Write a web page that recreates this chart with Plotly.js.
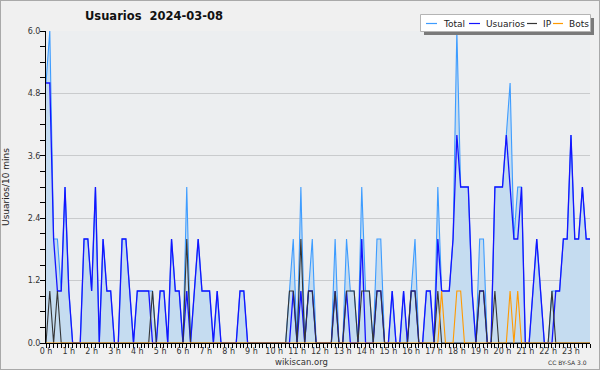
<!DOCTYPE html>
<html>
<head>
<meta charset="utf-8">
<script src="https://cdn.plot.ly/plotly-3.0.1.min.js"></script>
<style>
  html, body { margin: 0; padding: 0; background: #f0f0f0; }
  #wrap { position: relative; width: 600px; height: 370px; }
  #chart { width: 600px; height: 370px; }
  #frame { position: absolute; left: 0; top: 0; width: 600px; height: 370px; box-sizing: border-box; border: 1px solid #a9a9a9; pointer-events: none; }
</style>
</head>
<body>
<div id="wrap"><div id="chart"></div><div id="frame"></div></div>
<script>
// ---- data: one value per 10-minute slot of 2024-03-08 (144 slots) ----
const total = [
  5,6,2,2,1,3,1,0,0,0,
  2,2,1,3,0,2,1,1,0,0,
  2,2,1,0,1,1,1,1,1,0,
  1,1,0,2,1,1,0,3,0,1,
  2,1,1,1,0,1,0,0,0,0,
  0,1,1,0,0,0,0,0,0,0,
  0,0,0,0,1,2,0,3,0,1,
  2,0,0,0,0,0,2,0,0,2,
  1,1,0,3,1,1,0,2,2,0,
  0,1,0,0,1,0,1,2,0,0,
  1,1,0,3,1,1,1,2,6,3,
  3,3,1,0,2,2,0,0,3,3,
  3,4,5,2,3,3,0,0,1,2,
  1,0,0,1,1,1,2,2,4,2,
  2,3,2,2
];
const usuarios = [
  5,5,2,1,1,3,1,0,0,0,
  2,2,1,3,0,2,1,1,0,0,
  2,2,1,0,1,1,1,1,0,0,
  1,1,0,2,1,1,0,1,0,1,
  2,1,1,1,0,1,0,0,0,0,
  0,1,1,0,0,0,0,0,0,0,
  0,0,0,0,0,1,0,1,0,1,
  1,0,0,0,0,0,1,0,0,1,
  0,0,0,2,0,0,0,1,1,0,
  0,1,0,0,1,0,1,1,0,0,
  1,1,0,2,1,1,1,2,4,3,
  3,3,1,0,1,1,0,0,3,3,
  3,4,3,2,2,3,0,0,1,2,
  1,0,0,0,1,1,2,2,4,2,
  2,3,2,2
];
const ip = [
  0,1,0,1,0,0,0,0,0,0,
  0,0,0,0,0,0,0,0,0,0,
  0,0,0,0,0,0,0,0,1,0,
  0,0,0,0,0,0,0,2,0,0,
  0,0,0,0,0,0,0,0,0,0,
  0,0,0,0,0,0,0,0,0,0,
  0,0,0,0,1,1,0,2,0,1,
  1,0,0,0,0,0,1,0,0,1,
  1,1,0,1,1,1,0,1,1,0,
  0,0,0,0,0,0,1,1,0,0,
  0,0,0,1,0,0,0,0,0,0,
  0,0,0,0,1,1,0,0,1,0,
  0,0,0,0,0,0,0,0,0,0,
  0,0,0,1,0,0,0,0,0,0,
  0,0,0,0
];
const bots = [
  0,0,0,0,0,0,0,0,0,0,
  0,0,0,0,0,0,0,0,0,0,
  0,0,0,0,0,0,0,0,0,0,
  0,0,0,0,0,0,0,0,0,0,
  0,0,0,0,0,0,0,0,0,0,
  0,0,0,0,0,0,0,0,0,0,
  0,0,0,0,0,0,0,0,0,0,
  0,0,0,0,0,0,0,0,0,0,
  0,0,0,0,0,0,0,0,0,0,
  0,0,0,0,0,0,0,0,0,0,
  0,0,0,0,1,0,0,0,1,1,
  0,0,0,0,0,0,0,0,0,0,
  0,0,1,0,1,0,0,0,0,0,
  0,0,0,0,0,0,0,0,0,0,
  0,0,0,0
];
const hourLabels = ['0 h','1 h','2 h','3 h','4 h','5 h','6 h','7 h','8 h','9 h','10 h','11 h',
                    '12 h','13 h','14 h','15 h','16 h','17 h','18 h','19 h','20 h','21 h','22 h','23 h'];
const yTickVals = [0, 1.2, 2.4, 3.6, 4.8, 6.0];
const yTickText = ['0.0', '1.2', '2.4', '3.6', '4.8', '6.0'];
const seriesNames = ['Total', 'Usuarios', 'IP', 'Bots'];
const seriesColors = ['#3d9cff', '#1414ff', '#353535', '#ff9a00'];
const titleText = 'Usuarios  2024-03-08';

// ---- layout geometry ----
const W = 600, H = 370, ML = 46, MR = 10, MT = 31, MB = 27;
const PW = W - ML - MR, PH = H - MT - MB;
const PX = x => (x - ML) / PW;           // pixel -> paper x
const PY = y => (H - MB - y) / PH;       // pixel -> paper y

const slots = usuarios.map((_, i) => i);  // 10-minute slot index
const hourVals = hourLabels.map((_, h) => h * 6);

const FONT = 'DejaVu Sans';
const traces = [
  { x: slots, y: total, type: 'scatter', mode: 'lines', name: seriesNames[0],
    line: { color: seriesColors[0], width: 1.1 }, fill: 'tozeroy', fillcolor: '#c5dcf0', showlegend: false },
  { x: slots, y: usuarios, type: 'scatter', mode: 'lines', name: seriesNames[1],
    line: { color: seriesColors[1], width: 1.3 }, showlegend: false },
  { x: slots, y: ip, type: 'scatter', mode: 'lines', name: seriesNames[2],
    line: { color: seriesColors[2], width: 1.1 }, showlegend: false },
  { x: slots, y: bots, type: 'scatter', mode: 'lines', name: seriesNames[3],
    line: { color: seriesColors[3], width: 1.1 }, showlegend: false }
];

// hand-drawn legend box (compact, with drop shadow, as in the original)
const legY = 23.5;
const legItems = [
  { x0: 426, x1: 437, tx: 441 },
  { x0: 469, x1: 480, tx: 484 },
  { x0: 527, x1: 537, tx: 541 },
  { x0: 553, x1: 563, tx: 567 }
];
const shapes = [
  { type: 'rect', xref: 'paper', yref: 'paper', x0: PX(424), x1: PX(594), y0: PY(35), y1: PY(18),
    fillcolor: '#7a7a7a', line: { width: 0 }, layer: 'above' },
  { type: 'rect', xref: 'paper', yref: 'paper', x0: PX(420.5), x1: PX(590.5), y0: PY(31.5), y1: PY(14.5),
    fillcolor: '#ffffff', line: { color: '#b4b4b4', width: 1 }, layer: 'above' }
];
const annotations = [];
legItems.forEach((it, k) => {
  shapes.push({ type: 'line', xref: 'paper', yref: 'paper', x0: PX(it.x0), x1: PX(it.x1), y0: PY(legY), y1: PY(legY),
    line: { color: seriesColors[k], width: 1.2 }, layer: 'above' });
  annotations.push({ xref: 'paper', yref: 'paper', x: PX(it.tx), y: PY(legY), xanchor: 'left', yanchor: 'middle',
    text: seriesNames[k], showarrow: false, font: { family: FONT, size: 9, color: '#222' } });
});
annotations.push({ xref: 'paper', yref: 'paper', x: PX(301), y: PY(362), xanchor: 'center', yanchor: 'middle',
  text: 'wikiscan.org', showarrow: false, font: { family: FONT, size: 8.5, color: '#333' } });
annotations.push({ xref: 'paper', yref: 'paper', x: PX(589), y: PY(362), xanchor: 'right', yanchor: 'middle',
  text: 'CC BY-SA 3.0', showarrow: false, font: { family: FONT, size: 6, color: '#333' } });

const layout = {
  width: W, height: H,
  margin: { l: ML, r: MR, t: MT, b: MB, pad: 0 },
  paper_bgcolor: '#f0f0f0',
  plot_bgcolor: '#eceef0',
  showlegend: false,
  title: { text: titleText, xref: 'container', yref: 'container', x: 85 / W, xanchor: 'left',
           y: 1 - 16 / H, yanchor: 'middle', font: { family: FONT, size: 11.5, color: '#111', weight: 'bold' } },
  xaxis: {
    range: [0, slots.length - 1], fixedrange: true,
    tickmode: 'array', tickvals: hourVals, ticktext: hourLabels,
    ticks: 'outside', ticklen: 4, tickwidth: 1, tickcolor: '#000',
    ticklabelstandoff: -4,
    minor: { tickmode: 'linear', tick0: 0, dtick: 1, ticks: 'outside', ticklen: 4, tickwidth: 1, tickcolor: '#000', showgrid: false },
    showgrid: false, zeroline: false,
    showline: true, linecolor: '#000', linewidth: 1,
    tickfont: { family: FONT, size: 8, color: '#333' }
  },
  yaxis: {
    range: [0, 6], fixedrange: true,
    tickmode: 'array', tickvals: yTickVals, ticktext: yTickText,
    ticks: 'outside', ticklen: 5, tickwidth: 1, tickcolor: '#000',
    ticklabelstandoff: -2,
    minor: { tickmode: 'linear', tick0: 0, dtick: 0.3, ticks: 'outside', ticklen: 5, tickwidth: 1, tickcolor: '#000', showgrid: false },
    showgrid: true, gridcolor: '#c9cbcd', gridwidth: 1, zeroline: false,
    showline: true, linecolor: '#000', linewidth: 1,
    tickfont: { family: FONT, size: 8, color: '#333' },
    title: { text: 'Usuarios/10 mins', standoff: 16, font: { family: FONT, size: 9, color: '#222' } }
  },
  shapes: shapes,
  annotations: annotations
};

Plotly.newPlot('chart', traces, layout, { displayModeBar: false, staticPlot: true });
</script>
</body>
</html>
